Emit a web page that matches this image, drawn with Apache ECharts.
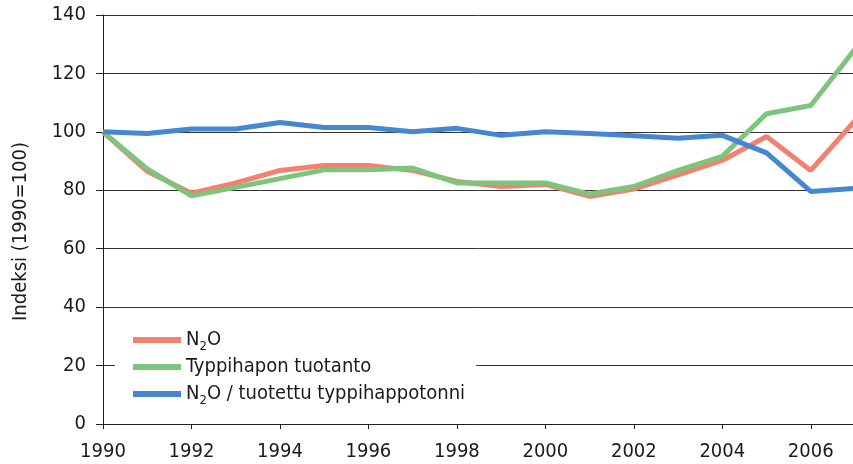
<!DOCTYPE html>
<html>
<head>
<meta charset="utf-8">
<script src="https://cdn.jsdelivr.net/npm/echarts@6/dist/echarts.min.js"></script>
<style>
  html, body { margin: 0; padding: 0; background: #fff; }
  #chart { width: 853px; height: 464px; }
</style>
</head>
<body>
<div id="chart"></div>
<script>
var years = [1990, 1991, 1992, 1993, 1994, 1995, 1996, 1997, 1998, 1999, 2000, 2001, 2002, 2003, 2004, 2005, 2006, 2007];
var n2o = [100, 86.5, 79, 82.5, 86.8, 88.5, 88.5, 86.8, 83, 81.3, 82, 77.9, 80.4, 85.3, 90.2, 98.4, 86.8, 103.8];
var production = [100, 87.3, 78.1, 81, 84, 87, 87, 87.6, 82.5, 82.5, 82.5, 78.7, 81.3, 86.8, 91.6, 106.2, 109, 128.3];
var perTonne = [100, 99.4, 101, 101, 103.2, 101.5, 101.5, 100, 101.2, 98.8, 100, 99.4, 98.7, 97.8, 98.8, 92.8, 79.6, 80.7];
var yTicks = [0, 20, 40, 60, 80, 100, 120, 140];

var font = '"DejaVu Sans Condensed", "Liberation Sans Narrow", sans-serif';
var textColor = '#1a1a1a';

function pairs(vals) {
  return years.map(function (y, i) { return [y, vals[i]]; });
}

function line(name, vals, color) {
  return {
    name: name,
    type: 'line',
    data: pairs(vals),
    symbol: 'none',
    lineStyle: { width: 5, color: color },
    itemStyle: { color: color }
  };
}

var myChart = echarts.init(document.getElementById('chart'));
myChart.setOption({
  animation: false,
  grid: { left: 103, top: 15, width: 752, bottom: 40, outerBoundsMode: 'none', containLabel: false },
  legend: {
    orient: 'vertical',
    left: 115,
    top: 321,
    padding: [6, 11, 6, 18],
    itemGap: 1,
    itemWidth: 48,
    itemHeight: 6,
    icon: 'rect',
    backgroundColor: '#fff',
    formatter: function (name) { return name.replace('N2O', 'N{s|2}O'); },
    textStyle: {
      fontFamily: font, fontSize: 20, lineHeight: 26, color: textColor,
      rich: { s: { fontFamily: font, fontSize: 13, lineHeight: 8, verticalAlign: 'bottom', color: textColor } }
    }
  },
  xAxis: {
    type: 'value',
    min: years[0],
    max: years[years.length - 1],
    interval: 2,
    axisLine: { lineStyle: { color: '#222', width: 1 } },
    axisTick: { show: true, length: 5, lineStyle: { color: '#222' } },
    splitLine: { show: false },
    axisLabel: {
      showMaxLabel: false,
      margin: 18,
      fontFamily: font, fontSize: 20, color: textColor,
      formatter: function (v) { return String(v); }
    }
  },
  yAxis: {
    type: 'value',
    min: yTicks[0],
    max: yTicks[yTicks.length - 1],
    interval: 20,
    name: 'Indeksi (1990=100)',
    nameLocation: 'middle',
    nameGap: 72,
    nameRotate: 90,
    nameTextStyle: { fontFamily: font, fontSize: 20, color: textColor, padding: [0, 24, 0, 0] },
    axisLine: { show: true, lineStyle: { color: '#222', width: 1 } },
    axisTick: { show: true, length: 7, lineStyle: { color: '#222' } },
    splitLine: { show: true, lineStyle: { color: '#333', width: 1 } },
    axisLabel: { margin: 17, fontFamily: font, fontSize: 20, color: textColor }
  },
  series: [
    line('N2O', n2o, '#F4806F'),
    line('Typpihapon tuotanto', production, '#7DC47D'),
    line('N2O / tuotettu typpihappotonni', perTonne, '#4688CF')
  ]
});
</script>
</body>
</html>
